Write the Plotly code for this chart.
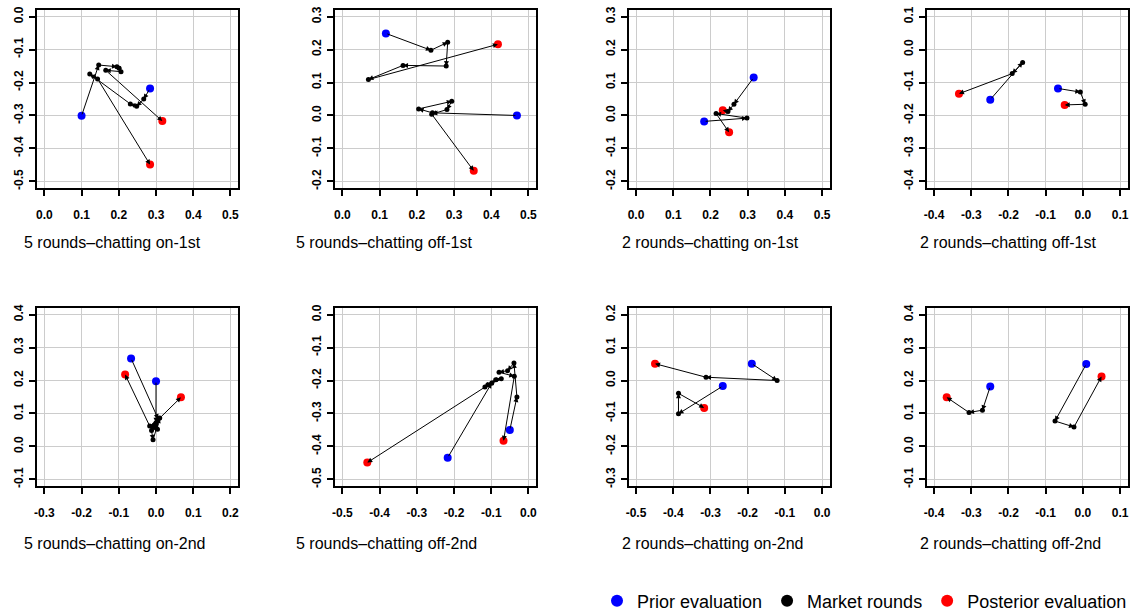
import plotly.graph_objects as go

W, H = 1133, 614

# ---------------- data ----------------
panel_titles = [
    "5 rounds–chatting on-1st", "5 rounds–chatting off-1st",
    "2 rounds–chatting on-1st", "2 rounds–chatting off-1st",
    "5 rounds–chatting on-2nd", "5 rounds–chatting off-2nd",
    "2 rounds–chatting on-2nd", "2 rounds–chatting off-2nd",
]
x_axis_start = [0.0, 0.0, 0.0, -0.4, -0.3, -0.5, -0.5, -0.4]
y_axis_start = [-0.5, -0.2, -0.2, -0.4, -0.1, -0.5, -0.3, -0.1]
tick_offsets = [0.0, 0.1, 0.2, 0.3, 0.4, 0.5]

# each path: prior evaluation, market rounds..., posterior evaluation
p1a_x = [0.100, 0.146, 0.195, 0.201, 0.206, 0.165, 0.317]
p1a_y = [-0.301, -0.147, -0.152, -0.157, -0.167, -0.163, -0.317]
p1b_x = [0.284, 0.267, 0.248, 0.231, 0.122, 0.143, 0.284]
p1b_y = [-0.218, -0.250, -0.272, -0.265, -0.174, -0.189, -0.449]

p2a_x = [0.117, 0.238, 0.283, 0.279, 0.163, 0.070, 0.418]
p2a_y = [0.249, 0.198, 0.222, 0.150, 0.152, 0.109, 0.216]
p2b_x = [0.469, 0.242, 0.205, 0.294, 0.281, 0.240, 0.353]
p2b_y = [0.000, 0.008, 0.020, 0.043, 0.018, 0.004, -0.168]

p3a_x = [0.316, 0.263, 0.247, 0.233]
p3a_y = [0.115, 0.034, 0.012, 0.016]
p3b_x = [0.183, 0.298, 0.215, 0.250]
p3b_y = [-0.018, -0.008, 0.006, -0.051]

p4a_x = [-0.249, -0.162, -0.190, -0.333]
p4a_y = [-0.152, -0.039, -0.073, -0.134]
p4b_x = [-0.067, -0.007, 0.006, -0.049]
p4b_y = [-0.118, -0.129, -0.166, -0.168]

p5a_x = [-0.067, 0.006, -0.004, -0.012, -0.008, 0.010, 0.067]
p5a_y = [0.267, 0.083, 0.058, 0.048, 0.020, 0.086, 0.149]
p5b_x = [0.000, 0.000, 0.004, -0.010, -0.004, -0.017, -0.083]
p5b_y = [0.198, 0.072, 0.052, 0.060, 0.066, 0.062, 0.218]

p6a_x = [-0.217, -0.099, -0.088, -0.073, -0.109, -0.117, -0.433]
p6a_y = [-0.434, -0.208, -0.198, -0.195, -0.213, -0.220, -0.449]
p6b_x = [-0.050, -0.031, -0.039, -0.056, -0.079, -0.038, -0.067]
p6b_y = [-0.350, -0.250, -0.147, -0.170, -0.175, -0.187, -0.383]

p7a_x = [-0.189, -0.121, -0.312, -0.449]
p7a_y = [0.051, 0.000, 0.010, 0.051]
p7b_x = [-0.267, -0.386, -0.386, -0.317]
p7b_y = [-0.017, -0.101, -0.039, -0.083]

p8a_x = [-0.249, -0.270, -0.306, -0.366]
p8a_y = [0.182, 0.110, 0.103, 0.149]
p8b_x = [0.009, -0.075, -0.024, 0.050]
p8b_y = [0.250, 0.077, 0.059, 0.212]

panel_paths = [
    [(p1a_x, p1a_y), (p1b_x, p1b_y)],
    [(p2a_x, p2a_y), (p2b_x, p2b_y)],
    [(p3a_x, p3a_y), (p3b_x, p3b_y)],
    [(p4a_x, p4a_y), (p4b_x, p4b_y)],
    [(p5a_x, p5a_y), (p5b_x, p5b_y)],
    [(p6a_x, p6a_y), (p6b_x, p6b_y)],
    [(p7a_x, p7a_y), (p7b_x, p7b_y)],
    [(p8a_x, p8a_y), (p8b_x, p8b_y)],
]
legend_names = ["Prior evaluation", "Market rounds", "Posterior evaluation"]

# ---------------- layout geometry (pixels) ----------------
box_left = [36.9, 334.9, 628.6, 926.6]
box_w = 201
row_top = [10, 308]
box_h = 178
label_left = [22, 294, 620, 918]
label_mid = [243, 543]

tick_font = dict(family="Liberation Sans, Arial", size=12, color="black", weight="bold")

fig = go.Figure()
annotations = []

for i in range(8):
    r, c = divmod(i, 4)
    sfx = "" if i == 0 else str(i + 1)
    xa, ya = "x" + sfx, "y" + sfx
    x0 = box_left[c] / W
    x1 = (box_left[c] + box_w) / W
    y1 = 1 - row_top[r] / H
    y0 = 1 - (row_top[r] + box_h) / H
    xs0, ys0 = x_axis_start[i], y_axis_start[i]
    xt = [round(xs0 + o, 1) for o in tick_offsets]
    yt = [round(ys0 + o, 1) for o in tick_offsets]
    common = dict(
        showgrid=True, gridcolor="#cccccc", gridwidth=1, zeroline=False,
        showline=True, mirror=True, linecolor="black", linewidth=2,
        ticks="outside", ticklen=6, tickwidth=1.5, tickcolor="black",
        tickfont=tick_font,
    )
    fig.update_layout(**{
        ("xaxis" + sfx): dict(domain=[x0, x1], anchor=ya,
                               range=[xs0 - 0.02, xs0 + 0.52],
                               tickvals=xt, ticktext=[f"{v:.1f}" for v in xt],
                               ticklabelstandoff=9, **common),
        ("yaxis" + sfx): dict(domain=[y0, y1], anchor=xa,
                               range=[ys0 - 0.02, ys0 + 0.52],
                               tickvals=yt, ticktext=[f"{v:.1f}" for v in yt],
                               tickangle=-90, ticklabelstandoff=1, **common),
    })

    for pi, (px, py) in enumerate(panel_paths[i]):
        # arrows between successive points
        for k in range(len(px) - 1):
            annotations.append(dict(
                x=px[k + 1], y=py[k + 1], ax=px[k], ay=py[k],
                xref=xa, yref=ya, axref=xa, ayref=ya,
                text="", showarrow=True, arrowhead=2, arrowsize=1,
                arrowwidth=1, arrowcolor="black", standoff=0,
            ))
        first = (i == 0 and pi == 0)
        fig.add_trace(go.Scatter(
            x=px[1:-1], y=py[1:-1], xaxis=xa, yaxis=ya, mode="markers",
            marker=dict(color="black", size=5), name=legend_names[1],
            showlegend=first, legendrank=2, hoverinfo="skip"))
        fig.add_trace(go.Scatter(
            x=px[:1], y=py[:1], xaxis=xa, yaxis=ya, mode="markers",
            marker=dict(color="#0000ff", size=8), name=legend_names[0],
            showlegend=first, legendrank=1, hoverinfo="skip"))
        fig.add_trace(go.Scatter(
            x=px[-1:], y=py[-1:], xaxis=xa, yaxis=ya, mode="markers",
            marker=dict(color="#ff0000", size=8), name=legend_names[2],
            showlegend=first, legendrank=3, hoverinfo="skip"))

    annotations.append(dict(
        text=panel_titles[i], xref="paper", yref="paper",
        x=label_left[c] / W, y=1 - label_mid[r] / H,
        xanchor="left", yanchor="middle", showarrow=False,
        font=dict(family="Liberation Sans, Arial", size=16, color="black"),
    ))

fig.update_layout(
    width=W, height=H, autosize=False,
    margin=dict(l=0, r=0, t=0, b=0, autoexpand=False),
    paper_bgcolor="white", plot_bgcolor="white",
    annotations=annotations,
    showlegend=True,
    legend=dict(orientation="h", x=597 / W, y=1 - 601 / H,
                xanchor="left", yanchor="middle",
                font=dict(family="Liberation Sans, Arial", size=18, color="black"),
                bgcolor="rgba(0,0,0,0)", itemsizing="constant"),
)

fig.write_html("out.html", config={"displayModeBar": False},
               post_script="document.body.style.margin='0';document.body.style.overflow='hidden';")
